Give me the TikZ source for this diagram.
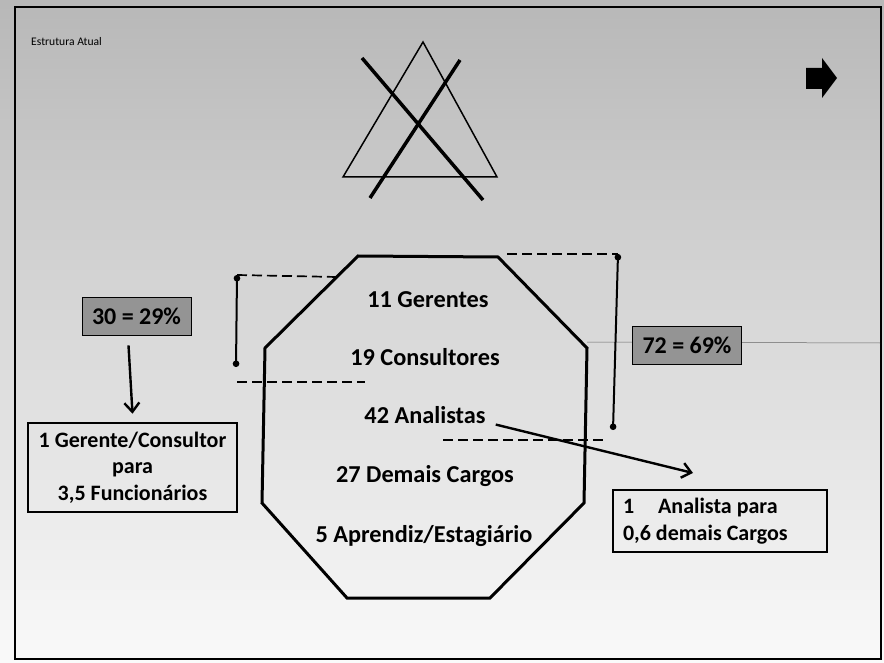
\documentclass[tikz,border=0pt]{standalone}
\usepackage{fontspec}
\setmainfont{Carlito}
\usetikzlibrary{arrows.meta}
\begin{document}
\begin{tikzpicture}[x=1pt,y=-1pt,
  octtext/.style={anchor=base, font=\fontsize{24.3}{26}\selectfont\bfseries, inner sep=0pt},
  lbl/.style={draw=black, line width=0.8pt, fill=black!42, minimum width=109pt, minimum height=38pt, inner sep=0pt, font=\fontsize{24}{26}\selectfont\bfseries},
  infobox/.style={draw=black, line width=2.6pt, inner sep=0pt, font=\fontsize{22}{26.5}\selectfont\bfseries},
  dashln/.style={line width=1.7pt, dash pattern=on 10pt off 5pt},
  bracket/.style={line width=2pt, {Circle[length=6.5pt]}-{Circle[length=6.5pt]}},
  bigarrow/.style={line width=2.4pt, -{Straight Barb[length=9pt,width=15pt,line width=2.4pt]}},
]
\useasboundingbox (0,0) rectangle (884,663);
\shade[top color=black!28, middle color=black!21, bottom color=black!2] (0,0) rectangle (884,663);
% frame
\draw[line width=2.4pt] (15,7) rectangle (881,659);
% title
\node[anchor=base west, font=\fontsize{11.6}{13}\selectfont, inner sep=0pt] (title) at (31,46) {Estrutura Atual};
% crossed triangle
\draw[line width=1.5pt, line join=miter] (423,42) -- (497,177) -- (343,177) -- cycle;
\draw[line width=3.5pt] (362,58) -- (483,200);
\draw[line width=3.5pt] (460,60) -- (370,198);
% block arrow
\fill (806,68) -- (822,68) -- (822,58) -- (837,78) -- (822,98) -- (822,89) -- (806,89) -- cycle;
% thin line through 72 label
\draw[line width=0.5pt, black!60] (587,342) -- (880,343);
% octagon
\draw[line width=3pt, line join=miter] (358,256) -- (498,257) -- (587,348) -- (584,503) -- (490,598) -- (347,598) -- (262,503) -- (265,348) -- cycle;
% octagon texts
\node[octtext] (g11) at (428,307) {11 Gerentes};
\node[octtext] (c19) at (425,365) {19 Consultores};
\node[octtext] (a42) at (425,423) {42 Analistas};
\node[octtext] (d27) at (425,482) {27 Demais Cargos};
\node[octtext] (e5) at (424,542) {5 Aprendiz/Estagiário};
% brackets and dashed guides
\coordinate (bl1) at (237,275);
\coordinate (bl2) at (236,367);
\coordinate (blt) at (337,277);
\coordinate (blb) at (365,382);
\coordinate (blb0) at (237,382);
\draw[bracket] (bl1) -- (bl2);
\draw[dashln] (bl1) -- (blt);
\draw[dashln] (blb0) -- (blb);
\coordinate (br1) at (618,254);
\coordinate (br2) at (613,430);
\coordinate (brt) at (507,254);
\coordinate (brb0) at (443,440);
\coordinate (brb) at (605,440);
\draw[bracket] (br1) -- (br2);
\draw[dashln] (brt) -- (br1);
\draw[dashln] (brb0) -- (brb);
% labels
\node[lbl] (l30) at (136.5,316) {30 = 29\%};
\node[lbl] (l72) at (687,345) {72 = 69\%};
% info boxes
\node[infobox, minimum width=209pt, minimum height=89pt, align=center] (box1) at (132.5,467.5) {1 Gerente/Consultor\\para\\3,5 Funcionários};
\node[infobox, minimum width=214pt, minimum height=62pt, text width=194pt, align=flush left] (box2) at (720,521) {1\hspace{24pt}Analista para\\0,6 demais Cargos};
% arrows
\coordinate (anaTip) at (693,473);
\draw[bigarrow] ([xshift=-8pt,yshift=-10pt]l30.south) -- ([yshift=8pt]box1.north);
\draw[bigarrow] ([xshift=10pt,yshift=-10pt]a42.east) -- (anaTip);
\end{tikzpicture}
\end{document}
